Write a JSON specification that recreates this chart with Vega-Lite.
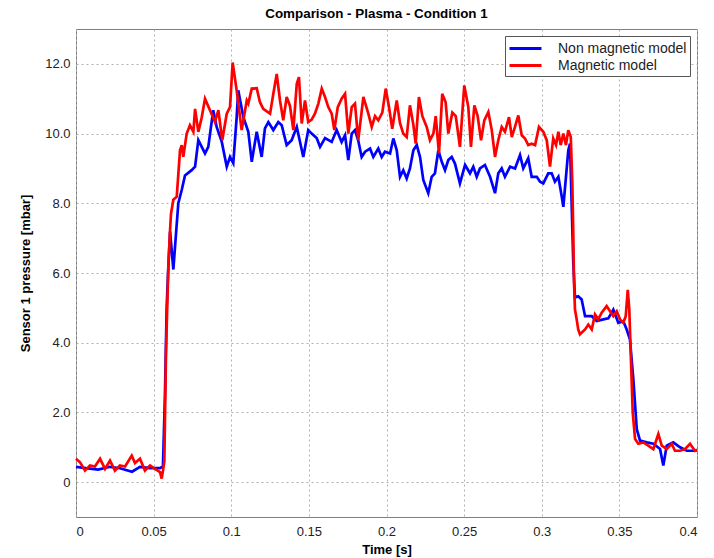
{
  "$schema": "https://vega.github.io/schema/vega-lite/v6.json",
  "width": 621,
  "height": 488,
  "autosize": "none",
  "padding": {"left": 76, "top": 29, "right": 17, "bottom": 41},
  "background": "#ffffff",
  "title": {
    "text": "Comparison - Plasma - Condition 1",
    "font": "Liberation Sans",
    "fontSize": 13.4,
    "fontWeight": "bold",
    "color": "#000000",
    "offset": 9,
    "dx": -10
  },
  "datasets": {
    "nonMagnetic": [
      {"t":0,"p":0.44},{"t":0.0064,"p":0.40},{"t":0.0142,"p":0.36},{"t":0.0219,"p":0.44},{"t":0.0283,"p":0.40},{"t":0.0361,"p":0.30},{"t":0.0412,"p":0.44},{"t":0.0477,"p":0.40},{"t":0.0541,"p":0.40},{"t":0.0560,"p":0.45},{"t":0.0573,"p":2.5},{"t":0.0584,"p":5.0},{"t":0.0593,"p":6.0},{"t":0.0606,"p":7.19},{"t":0.0627,"p":6.1},{"t":0.0638,"p":6.76},{"t":0.0659,"p":8.0},{"t":0.0681,"p":8.38},{"t":0.0702,"p":8.8},{"t":0.0745,"p":8.95},{"t":0.0767,"p":9.05},{"t":0.0788,"p":9.81},{"t":0.0831,"p":9.43},{"t":0.0852,"p":9.62},{"t":0.0884,"p":10.67},{"t":0.0906,"p":10.19},{"t":0.0939,"p":9.76},{"t":0.0971,"p":9.05},{"t":0.0992,"p":9.33},{"t":0.1013,"p":9.15},{"t":0.1035,"p":10.47},{"t":0.1045,"p":11.24},{"t":0.1078,"p":10.47},{"t":0.1110,"p":10.05},{"t":0.1132,"p":9.19},{"t":0.1164,"p":10.05},{"t":0.1196,"p":9.33},{"t":0.1217,"p":10.15},{"t":0.1239,"p":10.33},{"t":0.1271,"p":10.1},{"t":0.1303,"p":10.33},{"t":0.1325,"p":10.24},{"t":0.1357,"p":9.67},{"t":0.1389,"p":9.81},{"t":0.1422,"p":10.19},{"t":0.1464,"p":9.33},{"t":0.1496,"p":10.1},{"t":0.1518,"p":10.0},{"t":0.1550,"p":9.87},{"t":0.1572,"p":9.62},{"t":0.1604,"p":9.87},{"t":0.1647,"p":9.76},{"t":0.1679,"p":10.1},{"t":0.1711,"p":9.76},{"t":0.1733,"p":9.95},{"t":0.1754,"p":9.24},{"t":0.1776,"p":10.0},{"t":0.1797,"p":10.1},{"t":0.1818,"p":9.8},{"t":0.1840,"p":9.33},{"t":0.1862,"p":9.48},{"t":0.1894,"p":9.57},{"t":0.1915,"p":9.33},{"t":0.1947,"p":9.57},{"t":0.1969,"p":9.33},{"t":0.1990,"p":9.48},{"t":0.2023,"p":9.43},{"t":0.2044,"p":9.86},{"t":0.2066,"p":9.52},{"t":0.2087,"p":8.76},{"t":0.2108,"p":8.95},{"t":0.2130,"p":8.71},{"t":0.2151,"p":9.0},{"t":0.2173,"p":9.52},{"t":0.2195,"p":9.67},{"t":0.2216,"p":9.33},{"t":0.2237,"p":8.67},{"t":0.2269,"p":8.29},{"t":0.2291,"p":8.76},{"t":0.2312,"p":8.86},{"t":0.2334,"p":9.52},{"t":0.2356,"p":9.19},{"t":0.2377,"p":8.95},{"t":0.2398,"p":9.24},{"t":0.2420,"p":9.33},{"t":0.2441,"p":9.14},{"t":0.2473,"p":8.57},{"t":0.2506,"p":9.1},{"t":0.2538,"p":8.86},{"t":0.2559,"p":9.05},{"t":0.2581,"p":8.76},{"t":0.2602,"p":9.0},{"t":0.2634,"p":9.1},{"t":0.2667,"p":8.76},{"t":0.2699,"p":8.29},{"t":0.2720,"p":8.86},{"t":0.2742,"p":9.0},{"t":0.2763,"p":8.76},{"t":0.2796,"p":9.05},{"t":0.2828,"p":9.0},{"t":0.2860,"p":9.38},{"t":0.2881,"p":9.0},{"t":0.2913,"p":9.29},{"t":0.2935,"p":8.76},{"t":0.2968,"p":8.76},{"t":0.2989,"p":8.62},{"t":0.3010,"p":8.57},{"t":0.3042,"p":8.86},{"t":0.3064,"p":8.86},{"t":0.3085,"p":8.62},{"t":0.3107,"p":8.76},{"t":0.3129,"p":8.19},{"t":0.3139,"p":7.9},{"t":0.3156,"p":8.76},{"t":0.3171,"p":9.52},{"t":0.3182,"p":9.71},{"t":0.3203,"p":6.3},{"t":0.3214,"p":5.3},{"t":0.3235,"p":5.33},{"t":0.3257,"p":5.24},{"t":0.3279,"p":4.76},{"t":0.3322,"p":4.76},{"t":0.3354,"p":4.62},{"t":0.3396,"p":4.67},{"t":0.3429,"p":4.70},{"t":0.3461,"p":4.95},{"t":0.3493,"p":4.57},{"t":0.3525,"p":4.62},{"t":0.3547,"p":4.38},{"t":0.3568,"p":4.1},{"t":0.3590,"p":2.95},{"t":0.3612,"p":1.52},{"t":0.3633,"p":1.19},{"t":0.3676,"p":1.14},{"t":0.3719,"p":1.10},{"t":0.3762,"p":0.95},{"t":0.3783,"p":0.48},{"t":0.3805,"p":1.05},{"t":0.3847,"p":1.14},{"t":0.3891,"p":1.0},{"t":0.3934,"p":0.90},{"t":0.3976,"p":0.90},{"t":0.4,"p":0.92}
    ],
    "magnetic": [
      {"t":0,"p":0.67},{"t":0.0026,"p":0.57},{"t":0.0058,"p":0.33},{"t":0.0090,"p":0.48},{"t":0.0122,"p":0.45},{"t":0.0155,"p":0.67},{"t":0.0187,"p":0.38},{"t":0.0219,"p":0.62},{"t":0.0251,"p":0.33},{"t":0.0283,"p":0.48},{"t":0.0316,"p":0.45},{"t":0.0359,"p":0.76},{"t":0.0380,"p":0.55},{"t":0.0412,"p":0.67},{"t":0.0444,"p":0.33},{"t":0.0477,"p":0.48},{"t":0.0509,"p":0.38},{"t":0.0541,"p":0.29},{"t":0.0552,"p":0.10},{"t":0.0562,"p":0.38},{"t":0.0569,"p":0.6},{"t":0.0580,"p":3.8},{"t":0.0595,"p":6.19},{"t":0.0606,"p":7.24},{"t":0.0612,"p":7.7},{"t":0.0627,"p":8.1},{"t":0.0649,"p":8.19},{"t":0.0670,"p":9.52},{"t":0.0681,"p":9.67},{"t":0.0691,"p":9.33},{"t":0.0713,"p":10.0},{"t":0.0734,"p":10.24},{"t":0.0756,"p":10.05},{"t":0.0767,"p":10.71},{"t":0.0788,"p":10.05},{"t":0.0810,"p":10.47},{"t":0.0831,"p":11.0},{"t":0.0863,"p":10.67},{"t":0.0895,"p":10.33},{"t":0.0917,"p":10.67},{"t":0.0942,"p":9.81},{"t":0.0971,"p":10.57},{"t":0.0992,"p":10.76},{"t":0.1009,"p":12.04},{"t":0.1035,"p":11.24},{"t":0.1067,"p":10.1},{"t":0.1100,"p":10.95},{"t":0.1110,"p":10.86},{"t":0.1132,"p":11.29},{"t":0.1164,"p":11.3},{"t":0.1185,"p":10.9},{"t":0.1206,"p":10.71},{"t":0.1250,"p":10.57},{"t":0.1271,"p":11.14},{"t":0.1293,"p":11.71},{"t":0.1314,"p":10.95},{"t":0.1335,"p":10.38},{"t":0.1357,"p":11.05},{"t":0.1378,"p":10.8},{"t":0.1400,"p":10.1},{"t":0.1422,"p":11.43},{"t":0.1436,"p":11.62},{"t":0.1454,"p":10.29},{"t":0.1475,"p":10.95},{"t":0.1496,"p":10.33},{"t":0.1518,"p":10.4},{"t":0.1539,"p":10.57},{"t":0.1561,"p":10.86},{"t":0.1583,"p":11.29},{"t":0.1604,"p":11.05},{"t":0.1625,"p":10.76},{"t":0.1647,"p":10.57},{"t":0.1664,"p":10.1},{"t":0.1686,"p":10.76},{"t":0.1711,"p":11.0},{"t":0.1733,"p":11.14},{"t":0.1754,"p":10.0},{"t":0.1776,"p":10.76},{"t":0.1797,"p":10.86},{"t":0.1818,"p":9.81},{"t":0.1851,"p":11.05},{"t":0.1883,"p":10.57},{"t":0.1905,"p":10.19},{"t":0.1926,"p":10.5},{"t":0.1947,"p":10.38},{"t":0.1973,"p":10.6},{"t":0.1995,"p":11.29},{"t":0.2016,"p":10.76},{"t":0.2037,"p":10.14},{"t":0.2066,"p":10.95},{"t":0.2087,"p":10.3},{"t":0.2108,"p":10.0},{"t":0.2130,"p":9.9},{"t":0.2151,"p":10.81},{"t":0.2173,"p":10.25},{"t":0.2188,"p":9.71},{"t":0.2209,"p":11.05},{"t":0.2231,"p":10.5},{"t":0.2259,"p":10.19},{"t":0.2280,"p":9.81},{"t":0.2302,"p":10.0},{"t":0.2317,"p":10.5},{"t":0.2338,"p":9.43},{"t":0.2359,"p":11.14},{"t":0.2381,"p":10.9},{"t":0.2398,"p":10.0},{"t":0.2424,"p":10.6},{"t":0.2446,"p":10.5},{"t":0.2473,"p":9.62},{"t":0.2501,"p":11.38},{"t":0.2527,"p":10.76},{"t":0.2544,"p":9.62},{"t":0.2566,"p":10.81},{"t":0.2587,"p":10.5},{"t":0.2609,"p":9.81},{"t":0.2630,"p":10.38},{"t":0.2656,"p":10.62},{"t":0.2678,"p":10.1},{"t":0.2699,"p":9.33},{"t":0.2720,"p":9.81},{"t":0.2742,"p":10.19},{"t":0.2763,"p":10.05},{"t":0.2789,"p":10.47},{"t":0.2807,"p":9.9},{"t":0.2828,"p":10.2},{"t":0.2849,"p":10.52},{"t":0.2871,"p":9.95},{"t":0.2892,"p":9.86},{"t":0.2913,"p":9.67},{"t":0.2935,"p":9.71},{"t":0.2957,"p":9.67},{"t":0.2982,"p":10.19},{"t":0.3010,"p":10.05},{"t":0.3032,"p":9.81},{"t":0.3053,"p":9.05},{"t":0.3074,"p":9.86},{"t":0.3092,"p":9.67},{"t":0.3107,"p":10.05},{"t":0.3122,"p":9.67},{"t":0.3139,"p":10.0},{"t":0.3156,"p":9.67},{"t":0.3171,"p":10.1},{"t":0.3187,"p":9.9},{"t":0.3197,"p":8.57},{"t":0.3203,"p":7.15},{"t":0.3208,"p":5.7},{"t":0.3214,"p":4.95},{"t":0.3225,"p":4.67},{"t":0.3235,"p":4.38},{"t":0.3246,"p":4.24},{"t":0.3279,"p":4.38},{"t":0.3300,"p":4.52},{"t":0.3322,"p":4.38},{"t":0.3343,"p":4.81},{"t":0.3364,"p":4.67},{"t":0.3386,"p":4.86},{"t":0.3418,"p":5.05},{"t":0.3440,"p":4.90},{"t":0.3461,"p":4.76},{"t":0.3483,"p":4.90},{"t":0.3504,"p":4.67},{"t":0.3525,"p":4.57},{"t":0.3541,"p":4.76},{"t":0.3554,"p":5.52},{"t":0.3564,"p":4.95},{"t":0.3573,"p":3.72},{"t":0.3586,"p":2.0},{"t":0.3601,"p":1.24},{"t":0.3622,"p":1.10},{"t":0.3654,"p":1.14},{"t":0.3686,"p":1.05},{"t":0.3719,"p":0.95},{"t":0.3751,"p":1.38},{"t":0.3773,"p":1.05},{"t":0.3805,"p":0.95},{"t":0.3837,"p":1.1},{"t":0.3858,"p":0.9},{"t":0.3891,"p":0.9},{"t":0.3923,"p":0.95},{"t":0.3955,"p":1.1},{"t":0.3987,"p":0.9},{"t":0.4,"p":0.92}
    ]
  },
  "encoding": {
    "x": {
      "field": "t",
      "type": "quantitative",
      "scale": {"domain": [0, 0.4], "nice": false, "zero": false},
      "axis": {
        "title": "Time [s]",
        "values": [0, 0.05, 0.1, 0.15, 0.2, 0.25, 0.3, 0.35, 0.4],
        "format": "~g",
        "labelPadding": 8,
        "titlePadding": 5
      }
    },
    "y": {
      "field": "p",
      "type": "quantitative",
      "scale": {"domain": [-1, 13], "nice": false, "zero": false},
      "axis": {
        "title": "Sensor 1 pressure [mbar]",
        "values": [0, 2, 4, 6, 8, 10, 12],
        "labelExpr": "datum.value == 0 ? '0' : format(datum.value, '.1f')",
        "titlePadding": 12
      }
    }
  },
  "layer": [
    {
      "data": {"name": "nonMagnetic"},
      "mark": {"type": "line", "strokeWidth": 2.7, "interpolate": "linear"},
      "encoding": {"color": {"datum": "Non magnetic model"}}
    },
    {
      "data": {"name": "magnetic"},
      "mark": {"type": "line", "strokeWidth": 2.7, "interpolate": "linear"},
      "encoding": {"color": {"datum": "Magnetic model"}}
    }
  ],
  "resolve": {"scale": {"color": "shared"}},
  "config": {
    "font": "Liberation Sans",
    "view": {"stroke": "#7f7f7f", "strokeWidth": 1},
    "range": {"category": ["#0000ff", "#ff0000"]},
    "axis": {
      "domain": false,
      "ticks": false,
      "grid": true,
      "gridColor": "#b0b0b0",
      "gridDash": [2, 3],
      "gridWidth": 1,
      "labelFont": "Liberation Sans",
      "labelFontSize": 13,
      "labelColor": "#222222",
      "labelPadding": 6,
      "titleFont": "Liberation Sans",
      "titleFontSize": 13,
      "titleFontWeight": "bold",
      "titleColor": "#000000"
    },
    "legend": {
      "orient": "top-right",
      "offset": 7,
      "title": null,
      "strokeColor": "#555555",
      "fillColor": "#ffffff",
      "padding": 3,
      "symbolType": "M-2,0H2",
      "symbolSize": 256,
      "symbolOffset": 8,
      "symbolStrokeWidth": 3,
      "symbolFillColor": "transparent",
      "labelFont": "Liberation Sans",
      "labelFontSize": 14,
      "labelColor": "#222222",
      "rowPadding": 0,
      "labelOffset": 23
    }
  }
}
